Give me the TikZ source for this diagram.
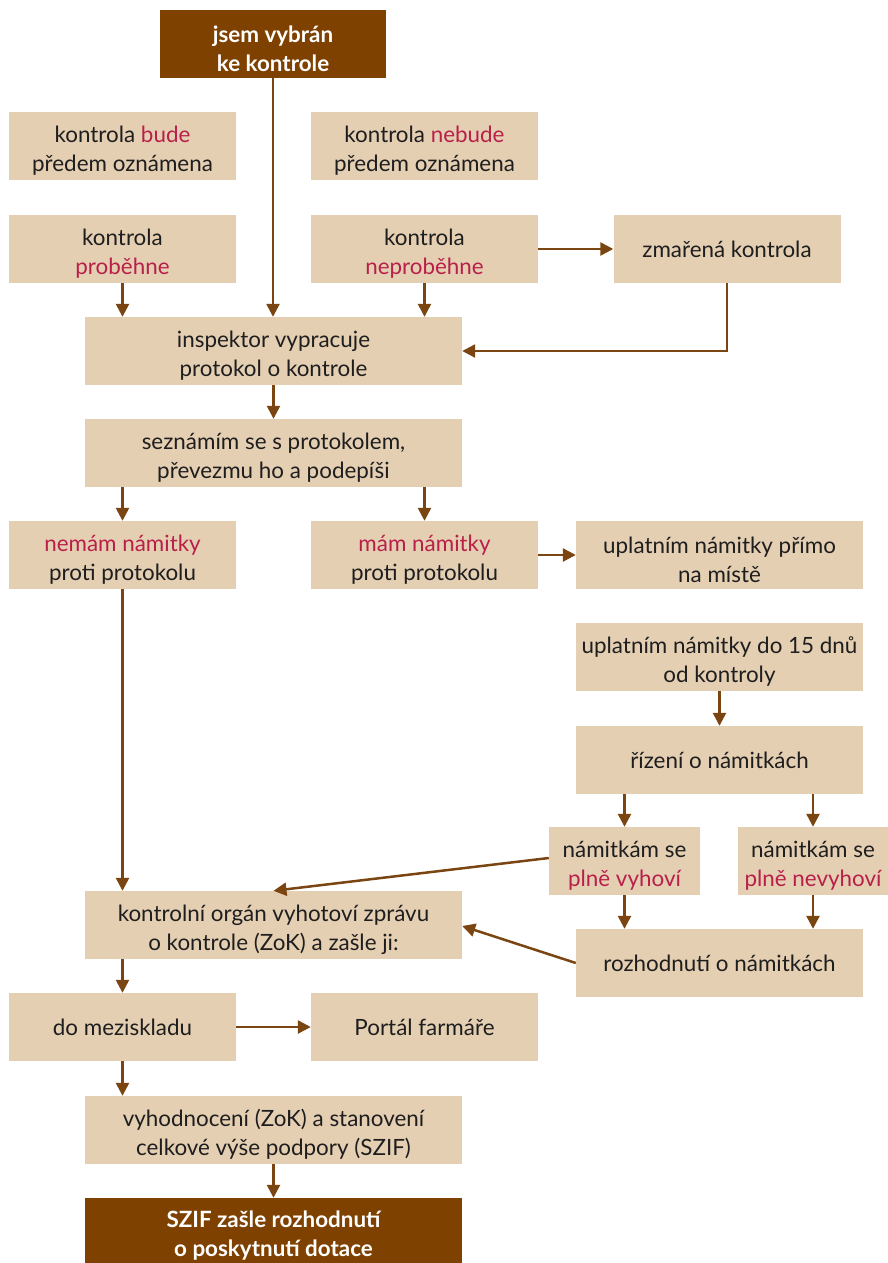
\documentclass[tikz,border=0pt]{standalone}
\usepackage{fontspec}
\setmainfont{Lato}
\usetikzlibrary{arrows.meta,calc}
\definecolor{boxfill}{HTML}{E5CFB3}
\definecolor{darkbox}{HTML}{7F4100}
\definecolor{hl}{HTML}{B8204A}
\definecolor{arr}{HTML}{7A4510}
\definecolor{txt}{HTML}{1E1E1E}
\newcommand{\hi}[1]{\textcolor{hl}{#1}}
\newcommand{\tl}{\rule{0pt}{26pt}}
\begin{document}
\begin{tikzpicture}[x=1pt,y=-1pt,
  box/.style={fill=boxfill, draw=none, minimum height=68pt, inner sep=0pt, align=center,
    text=txt, font=\fontsize{22.4}{29}\selectfont},
  wbox/.style={box, minimum width=227pt},
  lbox/.style={box, minimum width=377pt},
  rbox/.style={box, minimum width=287pt},
  sbox/.style={box, minimum width=151pt},
  dbox/.style={box, fill=darkbox, text=white, minimum width=377pt, font=\fontsize{22.4}{29}\selectfont\bfseries},
  conn/.style={draw=arr, line width=2.5pt, -{Triangle[length=13pt,width=13pt]}}
]
\useasboundingbox (0,0) rectangle (888,1263);
\node[dbox, minimum width=226pt] (top) at (273,44) {\tl jsem vybrán\\ke kontrole};
\node[wbox] (bude) at (122.5,146) {\tl kontrola \hi{bude}\\předem oznámena};
\node[wbox] (nebude) at (424.5,146) {\tl kontrola \hi{nebude}\\předem oznámena};
\node[wbox] (probehne) at (122.5,249) {\tl kontrola\\\hi{proběhne}};
\node[wbox] (neprobehne) at (424.5,249) {\tl kontrola\\\hi{neproběhne}};
\node[wbox] (zmarena) at (727,249) {zmařená kontrola};
\node[lbox] (inspektor) at (273.5,351) {\tl inspektor vypracuje\\protokol o kontrole};
\node[lbox] (seznamim) at (273.5,453) {\tl seznámím se s protokolem,\\převezmu ho a podepíši};
\node[wbox] (nemam) at (122.5,555) {\tl\hi{nemám námitky}\\proti protokolu};
\node[wbox] (mam) at (424.5,555) {\tl\hi{mám námitky}\\proti protokolu};
\node[rbox] (primo) at (719.5,555) {\tl uplatním námitky přímo\\na místě};
\node[rbox] (do15) at (719.5,657) {\tl uplatním námitky do 15 dnů\\od kontroly};
\node[rbox] (rizeni) at (719.5,760) {řízení o námitkách};
\node[sbox] (vyhovi) at (624.5,861) {\tl námitkám se\\\hi{plně vyhoví}};
\node[sbox, minimum width=150pt] (nevyhovi) at (813,861) {\tl námitkám se\\\hi{plně nevyhoví}};
\node[rbox] (rozhodnuti) at (719.5,963) {rozhodnutí o námitkách};
\node[lbox] (kontrolni) at (273.5,925) {\tl kontrolní orgán vyhotoví zprávu\\o kontrole (ZoK) a zašle ji:};
\node[wbox] (mezisklad) at (122.5,1027) {do meziskladu};
\node[wbox] (portal) at (424.5,1027) {Portál farmáře};
\node[lbox] (vyhodnoceni) at (273.5,1130) {\tl vyhodnocení (ZoK) a stanovení\\celkové výše podpory (SZIF)};
\node[dbox, minimum height=66pt] (szif) at (273.5,1231) {\tl SZIF zašle rozhodnutí\\o poskytnutí dotace};

\draw[conn] (top.south) -- (top.south |- inspektor.north);
\draw[conn] (probehne.south) -- (probehne.south |- inspektor.north);
\draw[conn] (neprobehne.south) -- (neprobehne.south |- inspektor.north);
\draw[conn] (neprobehne.east) -- (zmarena.west);
\draw[conn] (zmarena.south) |- (inspektor.east);
\draw[conn] (inspektor.south) -- (seznamim.north);
\draw[conn] (nemam.north |- seznamim.south) -- (nemam.north);
\draw[conn] (mam.north |- seznamim.south) -- (mam.north);
\draw[conn] (mam.east) -- (primo.west);
\draw[conn] (do15.south) -- (rizeni.north);
\draw[conn] (vyhovi.north |- rizeni.south) -- (vyhovi.north);
\draw[conn] (nevyhovi.north |- rizeni.south) -- (nevyhovi.north);
\draw[conn] (vyhovi.south) -- (vyhovi.south |- rozhodnuti.north);
\draw[conn] (nevyhovi.south) -- (nevyhovi.south |- rozhodnuti.north);
\draw[conn] ([yshift=3pt]vyhovi.west) -- (kontrolni.north);
\draw[conn] (rozhodnuti.west) -- ([yshift=-1pt]kontrolni.east);
\draw[conn] (nemam.south) -- (nemam.south |- kontrolni.north);
\draw[conn] (mezisklad.north |- kontrolni.south) -- (mezisklad.north);
\draw[conn] (mezisklad.east) -- (portal.west);
\draw[conn] (mezisklad.south) -- (mezisklad.south |- vyhodnoceni.north);
\draw[conn] (vyhodnoceni.south) -- (szif.north);
\end{tikzpicture}
\end{document}
